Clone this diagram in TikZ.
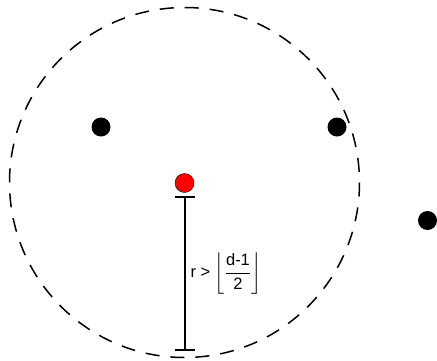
\documentclass[tikz,border=0pt]{standalone}
\usepackage{amsmath}
\usepackage{fontspec}
\setmainfont{Liberation Sans}
\usetikzlibrary{arrows.meta}
\tikzset{
  dot/.style={circle,fill=black,minimum size=19pt,inner sep=0pt},
  center dot/.style={circle,draw=black,thin,fill=red,minimum size=19pt,inner sep=0pt},
  ring/.style={black,line width=1.5pt,dash pattern=on 14pt off 11pt},
  radius bar/.style={{Bar[width=20pt]}-{Bar[width=20pt]},line width=2pt}
}
\begin{document}
\begin{tikzpicture}[x=1pt,y=-1pt]
\useasboundingbox (0,0) rectangle (437,360);
% radius ball
\draw[ring] (184.5,182.5) circle (175);
% points
\node[dot] (p1) at (101,127) {};
\node[dot] (p2) at (337,127) {};
\node[dot] (p3) at (427.5,220.5) {};
\node[center dot] (c) at (184.5,183) {};
\coordinate (b) at (184.5,351);
% radius marker
\draw[radius bar] (c.south) ++(0,3) coordinate (t) -- (b)
  node[pos=0.5,right=5pt,font=\fontsize{16.5}{18}\selectfont,inner sep=0pt]
  {r > $\left\lfloor\dfrac{\text{d-1}}{\text{2}}\right\rfloor$};
\end{tikzpicture}
\end{document}
